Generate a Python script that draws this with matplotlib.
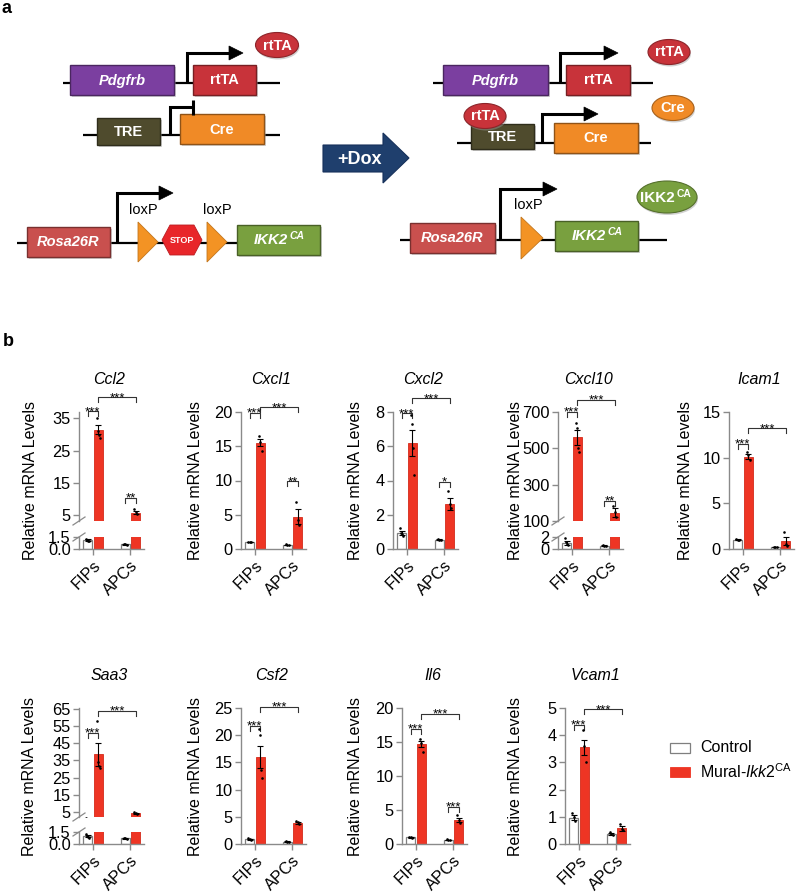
import matplotlib
matplotlib.use('Agg')
import matplotlib.pyplot as plt
from matplotlib.patches import Rectangle, Ellipse, Polygon
import numpy as np

plt.rcParams['font.family'] = ['Liberation Sans', 'DejaVu Sans']
plt.rcParams['mathtext.fontset'] = 'custom'
plt.rcParams['mathtext.rm'] = 'Liberation Sans'
plt.rcParams['mathtext.it'] = 'Liberation Sans:italic'
plt.rcParams['mathtext.bf'] = 'Liberation Sans:bold'

# ---------------- data ----------------
genes = ['Ccl2', 'Cxcl1', 'Cxcl2', 'Cxcl10', 'Icam1', 'Saa3', 'Csf2', 'Il6', 'Vcam1']
groups = ['FIPs', 'APCs']
series = ['Control', 'Mural-Ikk2CA']

ctrl_mean = [[1.1, 0.6], [1.0, 0.6], [0.95, 0.55], [1.0, 0.55], [1.0, 0.2],
             [0.95, 0.7], [0.9, 0.45], [1.0, 0.6], [0.97, 0.38]]
ctrl_sem = [[0.1, 0.05], [0.05, 0.05], [0.12, 0.03], [0.3, 0.05], [0.05, 0.02],
            [0.12, 0.05], [0.1, 0.05], [0.05, 0.05], [0.08, 0.04]]
mut_mean = [[31.5, 5.7], [15.5, 4.7], [6.2, 2.65], [560, 145], [10.1, 0.9],
            [38.5, 4.2], [16.0, 3.9], [14.7, 3.5], [3.55, 0.57]]
mut_sem = [[1.4, 0.5], [0.5, 1.1], [0.75, 0.35], [40, 25], [0.3, 0.45],
           [6.5, 0.4], [2.1, 0.2], [0.4, 0.3], [0.28, 0.08]]
ctrl_pts = [[[1.3, 1.15, 1.0, 0.95], [0.65, 0.6, 0.55]],
            [[1.05, 1.0, 0.95], [0.7, 0.6, 0.55]],
            [[1.2, 0.95, 0.85, 0.75], [0.6, 0.55, 0.5]],
            [[1.9, 1.1, 0.8, 0.6], [0.6, 0.55, 0.5]],
            [[1.05, 1.0, 0.95], [0.22, 0.2, 0.18]],
            [[1.3, 1.0, 0.9, 0.75], [0.75, 0.7, 0.65]],
            [[1.1, 0.9, 0.75], [0.5, 0.45, 0.4]],
            [[1.1, 1.0, 0.95], [0.7, 0.6, 0.55]],
            [[1.15, 1.0, 0.85], [0.45, 0.38, 0.32]]]
mut_pts = [[[35.2, 31.0, 29.7, 28.8], [6.7, 5.8, 5.2]],
           [[16.5, 15.6, 14.3], [6.9, 4.3, 3.5]],
           [[7.8, 7.3, 5.9, 4.3], [3.4, 2.6, 2.4]],
           [[640, 612, 502, 480], [185, 150, 120]],
           [[10.6, 10.3, 9.7], [1.85, 0.6, 0.35]],
           [[58, 34, 32, 30.5], [5.2, 4.3, 3.9]],
           [[21.1, 20.0, 13.6, 12.1], [4.2, 4.0, 3.7]],
           [[15.5, 14.9, 13.6], [4.2, 3.5, 3.1]],
           [[4.2, 3.6, 3.0], [0.72, 0.55, 0.5]]]

y_ticks = [[5, 15, 25, 35], [0, 5, 10, 15, 20], [0, 2, 4, 6, 8], [100, 300, 500, 700],
           [0, 5, 10, 15], [5, 15, 25, 35, 45, 55, 65], [0, 5, 10, 15, 20, 25],
           [0, 5, 10, 15, 20], [0, 1, 2, 3, 4, 5]]
y_lim = [(3.1, 37.0), (0, 20), (0, 8), (100, 700), (0, 15), (2.1, 65.4), (0, 25), (0, 20), (0, 5)]
low_ticks = [[0, 1.5], None, None, [0, 2], None, [0, 1.5], None, None, None]
low_labels = [['0.0', '1.5'], None, None, ['0', '2'], None, ['0.0', '1.5'], None, None, None]

br_fips = [37.2, 19.85, 7.93, 702, 11.55, 51, 21.75, 16.9, 4.38]
br_apcs = [10.3, 9.9, 3.94, 210, None, None, None, 5.5, None]
br_cross = [41.6, 20.7, 8.8, 766, 13.2, 63.9, 25.2, 19.1, 4.95]
star_fips = ['***'] * 9
star_apcs = ['**', '**', '*', '**', None, None, None, '***', None]
star_cross = ['***'] * 9

# ---------------- layout / style ----------------
W, H = 800, 894
RED = '#EE3524'
AXC = '#8a8a8a'
ax_left = [79, 241, 393, 558, 729, 79, 241, 402, 565]
ax_row = [0, 0, 0, 0, 0, 1, 1, 1, 1]
row_top = [412, 708]
row_bot = [549, 844]
title_y = [379, 675]
ylabel_off = [48, 45, 37, 42, 43, 49, 45, 46, 49]
AX_W = 65
XLIM = (-0.37, 1.36)
BW = 0.24
OFF = 0.14
TICK_FS = 11.8

fig = plt.figure(figsize=(8, 8.94), dpi=100)
bg = fig.add_axes([0, 0, 1, 1])
bg.set_xlim(0, W)
bg.set_ylim(H, 0)
bg.axis('off')


def add_px_axes(x0, y0, x1, y1):
    return fig.add_axes([x0 / W, 1 - y1 / H, (x1 - x0) / W, (y1 - y0) / H])


def to_px(ax, x, y):
    d = ax.transData.transform((x, y))
    return d[0], H - d[1]

# ---------------- panel a ----------------
bg.text(2, 13, 'a', fontsize=13, fontweight='bold', ha='left', va='baseline')
bg.text(3, 346, 'b', fontsize=13, fontweight='bold', ha='left', va='baseline')


def line(xs, ys, lw=1.6, z=1):
    bg.plot(xs, ys, color='black', lw=lw, solid_capstyle='butt', solid_joinstyle='miter', zorder=z)


def darker(c, f=0.7):
    rgb = matplotlib.colors.to_rgb(c)
    return tuple(v * f for v in rgb)


def box(x0, y0, x1, y1, fc, label=None, italic=False, fs=10.5):
    bg.add_patch(Rectangle((x0 + 1.5, y0 + 2), x1 - x0, y1 - y0, fc='#999999', ec='none', alpha=0.45, zorder=2))
    bg.add_patch(Rectangle((x0, y0), x1 - x0, y1 - y0, fc=fc, ec=darker(fc, 0.6), lw=1, zorder=3))
    if label:
        bg.text((x0 + x1) / 2, (y0 + y1) / 2 + 0.5, label, color='white', fontweight='bold',
                style='italic' if italic else 'normal', ha='center', va='center', fontsize=fs, zorder=4)


def ellipse(cx, cy, w, h, fc, label=None, fs=10.5):
    bg.add_patch(Ellipse((cx + 1, cy + 2), w, h, fc='#999999', ec='none', alpha=0.45, zorder=5))
    bg.add_patch(Ellipse((cx, cy), w, h, fc=fc, ec=darker(fc, 0.7), lw=0.8, zorder=6))
    if label:
        bg.text(cx, cy + 0.5, label, color='white', fontweight='bold', ha='center', va='center', fontsize=fs, zorder=7)


def promoter(x, yb, yt, xe, blocked=False):
    if blocked:
        line([x, x, xe], [yb, yt, yt], lw=2.2, z=4)
        line([xe, xe], [yt - 7, yt + 8], lw=2.2, z=4)
    else:
        line([x, x, xe - 13], [yb, yt, yt], lw=2.2, z=4)
        bg.add_patch(Polygon([(xe - 14, yt - 7), (xe, yt), (xe - 14, yt + 7)], closed=True,
                             fc='black', ec='black', lw=0.5, zorder=4))


def triangle(x0, yc, w=20, h=40):
    bg.add_patch(Polygon([(x0, yc - h / 2), (x0 + w, yc), (x0, yc + h / 2)], closed=True,
                         fc='#F39324', ec=darker('#F39324', 0.8), lw=0.6, zorder=3))


def ikk_label(xr, yc, fs=10.8, italic=True, sup_fs=7.5):
    bg.text(xr, yc + 0.5, 'IKK2', color='white', fontweight='bold', style='italic' if italic else 'normal',
            ha='right', va='center', fontsize=fs, zorder=8)
    bg.text(xr + 2, yc - 4, 'CA', color='white', fontweight='bold', style='italic' if italic else 'normal',
            ha='left', va='center', fontsize=sup_fs, zorder=8)

PURPLE = '#7B3FA0'
RTTA = '#C8333A'
TRE = '#4F4B2D'
CRE = '#F08A26'
ROSA = '#C9504E'
GREEN = '#79A03F'

# left side
line([63, 280], [83, 83])
box(70, 65, 174, 95, PURPLE, 'Pdgfrb', italic=True)
box(193, 65, 256, 95, RTTA, 'rtTA')
promoter(187, 83, 53, 243)
ellipse(277, 45, 43, 25, RTTA, 'rtTA')

line([83, 280], [135, 135])
box(97, 118, 160, 145, TRE, 'TRE')
box(180, 114, 264, 144, CRE, 'Cre')
promoter(170, 135, 107, 193, blocked=True)

line([17, 320], [243, 243])
box(27, 227, 110, 257, ROSA, 'Rosa26R', italic=True)
promoter(117, 243, 193, 173)
bg.text(143, 210, 'loxP', fontsize=10.5, ha='center', va='center')
bg.text(217, 210, 'loxP', fontsize=10.5, ha='center', va='center')
triangle(138, 242)
triangle(207, 242)
cx, cy = 182, 240
bg.add_patch(Polygon([(cx - 20, cy), (cx - 12, cy - 15), (cx + 12, cy - 15), (cx + 20, cy),
                      (cx + 12, cy + 15), (cx - 12, cy + 15)], closed=True, fc='#E8262A',
                     ec=darker('#E8262A', 0.8), lw=0.6, zorder=3))
bg.text(cx, cy + 0.5, 'STOP', color='white', fontweight='bold', fontsize=6.5, ha='center', va='center', zorder=4)
box(237, 225, 320, 255, GREEN)
ikk_label(288, 240)

# +Dox arrow
bg.add_patch(Polygon([(323, 145), (383, 145), (383, 133), (409, 158), (383, 183), (383, 172), (323, 172)],
                     closed=True, fc='#1F3F6D', ec='#16305a', lw=0.8, zorder=3))
bg.text(360, 159, '+Dox', color='white', fontweight='bold', fontsize=13, ha='center', va='center', zorder=4)

# right side
line([433, 653], [83, 83])
box(443, 65, 548, 95, PURPLE, 'Pdgfrb', italic=True)
box(566, 65, 630, 95, RTTA, 'rtTA')
promoter(560, 83, 53, 618)
ellipse(669, 52, 42, 25, RTTA, 'rtTA')

line([457, 651], [143, 143])
box(471, 124, 534, 149, TRE, 'TRE')
box(554, 123, 638, 153, CRE, 'Cre')
promoter(542, 143, 114, 598)
ellipse(485, 116, 42, 25, RTTA, 'rtTA')
ellipse(673, 108, 42, 25, CRE, 'Cre')

line([400, 667], [240, 240])
box(410, 223, 495, 253, ROSA, 'Rosa26R', italic=True)
promoter(500, 240, 189, 557)
bg.text(528, 205, 'loxP', fontsize=10.5, ha='center', va='center')
triangle(521, 238, w=22, h=42)
box(555, 221, 638, 251, GREEN)
ikk_label(606, 236)
ellipse(667, 197, 60, 32, GREEN)
ikk_label(675, 198, fs=11, italic=False, sup_fs=7.5)

# ---------------- panel b ----------------


def style_axes(ax, show_x):
    ax.patch.set_alpha(0)
    ax.set_xlim(*XLIM)
    for s in ['top', 'right']:
        ax.spines[s].set_visible(False)
    ax.spines['left'].set_color(AXC)
    ax.spines['left'].set_linewidth(1.0)
    ax.tick_params(axis='y', length=4.5, width=1, color=AXC, pad=1.5, labelsize=TICK_FS)
    if show_x:
        ax.spines['bottom'].set_color(AXC)
        ax.spines['bottom'].set_linewidth(1.0)
        ax.set_xticks([0, 1])
        ax.set_xticklabels(groups, rotation=45, ha='right', rotation_mode='anchor', fontsize=TICK_FS)
        ax.tick_params(axis='x', length=4.5, width=1, color=AXC, pad=2)
    else:
        ax.spines['bottom'].set_visible(False)
        ax.set_xticks([])


def draw_data(ax, i):
    for gi in range(2):
        xc = gi - OFF
        xm = gi + OFF
        ax.bar(xc, ctrl_mean[i][gi], width=BW, color='white', edgecolor='#7f7f7f', linewidth=0.9, zorder=2)
        ax.bar(xm, mut_mean[i][gi], width=BW, color=RED, edgecolor='#d42a1a', linewidth=0.6, zorder=2)
        ax.errorbar([xc], [ctrl_mean[i][gi]], yerr=[ctrl_sem[i][gi]], fmt='none', ecolor='black',
                    elinewidth=0.8, capsize=2, capthick=0.8, zorder=3)
        ax.errorbar([xm], [mut_mean[i][gi]], yerr=[mut_sem[i][gi]], fmt='none', ecolor='black',
                    elinewidth=0.8, capsize=2, capthick=0.8, zorder=3)
        for x0, pts in ((xc, ctrl_pts[i][gi]), (xm, mut_pts[i][gi])):
            n = len(pts)
            jit = np.linspace(-0.04, 0.04, n) if n > 1 else [0]
            ax.scatter(np.asarray(jit) + x0, pts, s=3.5, color='black', zorder=4, linewidths=0)


def bracket(ax, xa, xb, y, label):
    xa_p, y_p = to_px(ax, xa, y)
    xb_p, _ = to_px(ax, xb, y)
    bg.plot([xa_p, xa_p, xb_p, xb_p], [y_p + 5, y_p, y_p, y_p + 5], color='#333333', lw=0.8, zorder=5)
    bg.text((xa_p + xb_p) / 2, y_p + 3.8, label, fontsize=9.5, ha='center', va='baseline', zorder=6)


for i, g in enumerate(genes):
    r = ax_row[i]
    x0 = ax_left[i]
    x1 = x0 + AX_W
    yt, yb = row_top[r], row_bot[r]
    if low_ticks[i] is not None:
        ax_top = add_px_axes(x0, yt, x1, yt + 109)
        ax_low = add_px_axes(x0, yb - 12, x1, yb)
        style_axes(ax_top, False)
        style_axes(ax_low, True)
        draw_data(ax_top, i)
        draw_data(ax_low, i)
        ax_top.set_ylim(*y_lim[i])
        ax_top.set_yticks(y_ticks[i])
        ax_low.set_ylim(low_ticks[i][0], low_ticks[i][-1])
        ax_low.set_yticks(low_ticks[i])
        ax_low.set_yticklabels(low_labels[i])
        # break marks
        for yy in (yt + 109, yb - 12):
            bg.plot([x0 - 6, x0 + 6], [yy + 4, yy - 4], color=AXC, lw=0.9, zorder=5)
    else:
        ax_top = add_px_axes(x0, yt, x1, yb)
        style_axes(ax_top, True)
        draw_data(ax_top, i)
        ax_top.set_ylim(*y_lim[i])
        ax_top.set_yticks(y_ticks[i])
    # significance brackets
    bracket(ax_top, -OFF, OFF, br_fips[i], star_fips[i])
    bracket(ax_top, OFF, 1 + OFF, br_cross[i], star_cross[i])
    if br_apcs[i] is not None:
        bracket(ax_top, 1 - OFF, 1 + OFF, br_apcs[i], star_apcs[i])
    # labels
    bg.text(x0 - ylabel_off[i], (yt + yb) / 2, 'Relative mRNA Levels', rotation=90,
            ha='center', va='center', fontsize=11.5)
    bg.text((x0 + x1) / 2 - 2, title_y[r], g, style='italic', ha='center', va='center', fontsize=11.5)

# legend
bg.add_patch(Rectangle((670, 743), 20, 10, fc='white', ec='#7f7f7f', lw=0.9))
bg.add_patch(Rectangle((670, 767), 20, 10, fc=RED, ec=RED, lw=0.6))
bg.text(700, 748, series[0], fontsize=11.5, ha='left', va='center')
bg.text(700, 772, r'Mural-$\mathit{Ikk2}^{\mathrm{CA}}$', fontsize=11.5, ha='left', va='center')

fig.savefig('out.png', dpi=100)
